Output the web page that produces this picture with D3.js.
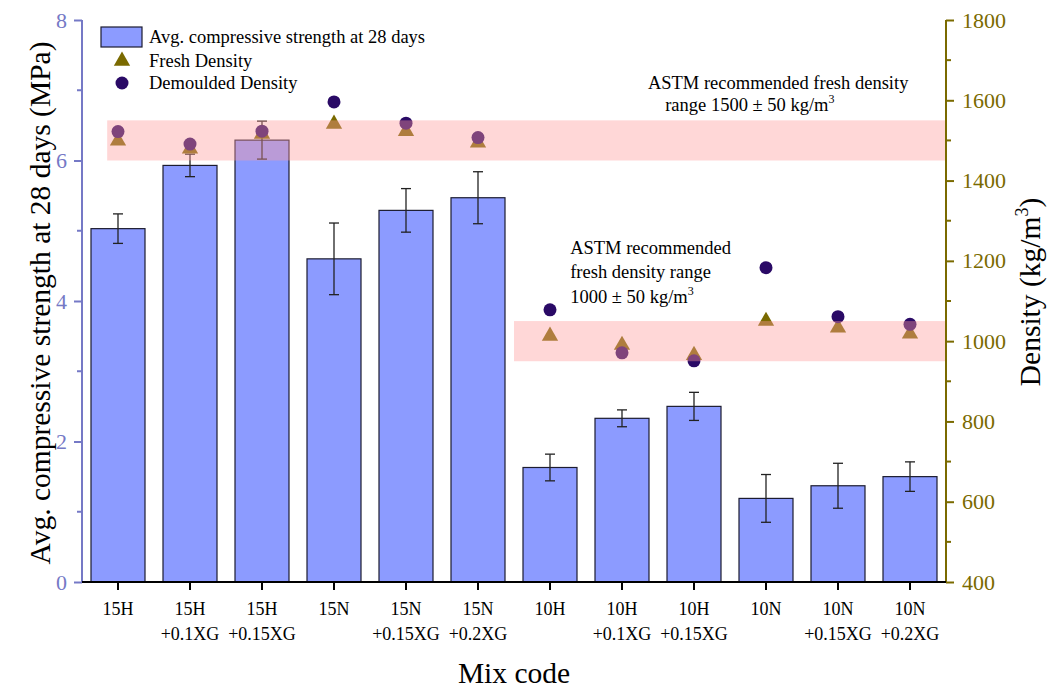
<!DOCTYPE html>
<html>
<head>
<meta charset="utf-8">
<script src="https://cdn.jsdelivr.net/npm/d3@7"></script>
<style>
  body { margin: 0; background: #fff; }
  text { font-family: "Liberation Serif", "Times New Roman", serif; }
</style>
</head>
<body>
<svg id="chart" width="1055" height="689"></svg>
<script>
// mix codes, two lines per tick label
const mixCodes = ["15H", "15H+0.1XG", "15H+0.15XG", "15N", "15N+0.15XG", "15N+0.2XG",
                  "10H", "10H+0.1XG", "10H+0.15XG", "10N", "10N+0.15XG", "10N+0.2XG"];
const codeLine1 = ["15H", "15H", "15H", "15N", "15N", "15N", "10H", "10H", "10H", "10N", "10N", "10N"];
const codeLine2 = ["", "+0.1XG", "+0.15XG", "", "+0.15XG", "+0.2XG", "", "+0.1XG", "+0.15XG", "", "+0.15XG", "+0.2XG"];

// avg compressive strength at 28 days (MPa) and its error
const strength    = [5.03, 5.93, 6.29, 4.60, 5.29, 5.47, 1.63, 2.33, 2.50, 1.19, 1.37, 1.50];
const strengthErr = [0.21, 0.16, 0.27, 0.51, 0.31, 0.37, 0.19, 0.12, 0.20, 0.34, 0.32, 0.21];

// densities (kg/m3)
const freshDensity     = [1499, 1479, 1516, 1541, 1523, 1494, 1013, 990, 965, 1050, 1033, 1018];
const demouldedDensity = [1522, 1491, 1523, 1596, 1543, 1507, 1078, 971, 951, 1183, 1061, 1042];

const strengthTicks = [0, 2, 4, 6, 8];
const strengthMinor = [1, 3, 5, 7];
const densityTicks = [400, 600, 800, 1000, 1200, 1400, 1600, 1800];
const densityMinor = [500, 700, 900, 1100, 1300, 1500, 1700];

// ASTM recommended ranges: centre, tolerance, start (category index)
const bandCentre = [1500, 1000];
const bandTol = [50, 50];
const bandStart = [-0.15, 5.5];

const margin = { top: 20, right: 109, bottom: 107, left: 82 };
const W = 1055, H = 689;
const width = W - margin.left - margin.right;
const height = H - margin.top - margin.bottom;

const svg = d3.select("#chart");
const g = svg.append("g").attr("transform", `translate(${margin.left},${margin.top})`);

const x = d3.scaleBand().domain(mixCodes).range([0, width]).paddingInner(0.25).paddingOuter(0.125);
const y = d3.scaleLinear().domain([0, 8]).range([height, 0]);
const yD = d3.scaleLinear().domain([400, 1800]).range([height, 0]);
const xIdx = (i) => x(mixCodes[0]) + x.bandwidth() / 2 + i * x.step();

const leftColor = "#7579c6";
const rightColor = "#7a6a00";

// bars
g.selectAll("rect.bar")
  .data(mixCodes)
  .join("rect")
  .attr("class", "bar")
  .attr("x", (d) => x(d))
  .attr("width", x.bandwidth())
  .attr("y", (d, i) => y(strength[i]))
  .attr("height", (d, i) => height - y(strength[i]))
  .attr("fill", "#8c9bff")
  .attr("stroke", "#1c1c30")
  .attr("stroke-width", 1.2);

// error bars
const eb = g.append("g").attr("stroke", "#222").attr("stroke-width", 1.3);
mixCodes.forEach((d, i) => {
  const cx = x(d) + x.bandwidth() / 2;
  const y1 = y(strength[i] + strengthErr[i]);
  const y2 = y(strength[i] - strengthErr[i]);
  eb.append("line").attr("x1", cx).attr("x2", cx).attr("y1", y1).attr("y2", y2);
  eb.append("line").attr("x1", cx - 5).attr("x2", cx + 5).attr("y1", y1).attr("y2", y1);
  eb.append("line").attr("x1", cx - 5).attr("x2", cx + 5).attr("y1", y2).attr("y2", y2);
});

// fresh density triangles
const tri = d3.symbol().type(d3.symbolTriangle).size(115);
g.selectAll("path.fresh")
  .data(mixCodes)
  .join("path")
  .attr("class", "fresh")
  .attr("d", tri)
  .attr("transform", (d, i) => `translate(${x(d) + x.bandwidth() / 2},${yD(freshDensity[i])})`)
  .attr("fill", "#7a6a00");

// demoulded density circles
g.selectAll("circle.demould")
  .data(mixCodes)
  .join("circle")
  .attr("class", "demould")
  .attr("cx", (d) => x(d) + x.bandwidth() / 2)
  .attr("cy", (d, i) => yD(demouldedDensity[i]))
  .attr("r", 6.5)
  .attr("fill", "#2a0a66");

// ASTM bands (drawn over the marks, semi transparent)
bandCentre.forEach((c, k) => {
  g.append("rect")
    .attr("x", xIdx(bandStart[k]))
    .attr("width", width - xIdx(bandStart[k]))
    .attr("y", yD(c + bandTol[k]))
    .attr("height", yD(c - bandTol[k]) - yD(c + bandTol[k]))
    .attr("fill", "#ff9a9a")
    .attr("opacity", 0.4);
});

// left axis
const yAxis = g.append("g")
  .call(d3.axisLeft(y).tickValues(strengthTicks).tickSize(8).tickPadding(7).tickFormat(d3.format("d")));
yAxis.select(".domain").attr("stroke", leftColor).attr("stroke-width", 2).attr("d", `M0,${height}V0`);
yAxis.selectAll(".tick line").attr("stroke", leftColor).attr("stroke-width", 2);
yAxis.selectAll("text").attr("fill", leftColor).attr("font-size", 22);
g.append("g").selectAll("line").data(strengthMinor).join("line")
  .attr("x1", -5).attr("x2", 0).attr("y1", (d) => y(d)).attr("y2", (d) => y(d))
  .attr("stroke", leftColor).attr("stroke-width", 2);

// right axis
const yAxisR = g.append("g").attr("transform", `translate(${width},0)`)
  .call(d3.axisRight(yD).tickValues(densityTicks).tickSize(8).tickPadding(8).tickFormat(d3.format("d")));
yAxisR.select(".domain").attr("stroke", rightColor).attr("stroke-width", 2).attr("d", `M0,${height}V0`);
yAxisR.selectAll(".tick line").attr("stroke", rightColor).attr("stroke-width", 2);
yAxisR.selectAll("text").attr("fill", rightColor).attr("font-size", 22);
g.append("g").attr("transform", `translate(${width},0)`)
  .selectAll("line").data(densityMinor).join("line")
  .attr("x1", 0).attr("x2", 5).attr("y1", (d) => yD(d)).attr("y2", (d) => yD(d))
  .attr("stroke", rightColor).attr("stroke-width", 2);

// bottom axis
const xAxis = g.append("g").attr("transform", `translate(0,${height})`)
  .call(d3.axisBottom(x).tickSize(8).tickFormat(""));
xAxis.select(".domain").attr("stroke", "#000").attr("stroke-width", 2).attr("d", `M0,0H${width}`);
xAxis.selectAll(".tick line").attr("stroke", "#000").attr("stroke-width", 2);
xAxis.selectAll(".tick").each(function (d, i) {
  const t = d3.select(this);
  t.append("text").attr("y", 33).attr("text-anchor", "middle").attr("fill", "#000")
    .attr("font-size", 18).text(codeLine1[i]);
  t.append("text").attr("y", 58).attr("text-anchor", "middle").attr("fill", "#000")
    .attr("font-size", 18).text(codeLine2[i]);
});

// axis titles
svg.append("text").attr("x", 514).attr("y", 683).attr("text-anchor", "middle")
  .attr("font-size", 29.5).attr("fill", "#000").text("Mix code");
svg.append("text").attr("transform", `translate(50,303) rotate(-90)`)
  .attr("text-anchor", "middle").attr("font-size", 29.5).attr("fill", "#000")
  .text("Avg. compressive strength at 28 days (MPa)");
const rt = svg.append("text").attr("transform", `translate(1040,292) rotate(-90)`)
  .attr("text-anchor", "middle").attr("font-size", 29.5).attr("fill", "#000");
rt.append("tspan").text("Density (kg/m");
rt.append("tspan").attr("font-size", 18).attr("dy", -12).text("3");
rt.append("tspan").attr("dy", 12).text(")");

// annotations
const ann = g.append("g").attr("font-size", 18.5).attr("fill", "#000");
ann.append("text").attr("x", xIdx(7.36)).attr("y", yD(1643) + 6).text("ASTM recommended fresh density");
const a2 = ann.append("text").attr("x", xIdx(7.6)).attr("y", yD(1588) + 6);
a2.append("tspan").text("range 1500 ± 50 kg/m");
a2.append("tspan").attr("font-size", 12).attr("dy", -8).text("3");
ann.append("text").attr("x", xIdx(6.28)).attr("y", yD(1232) + 6).text("ASTM recommended");
ann.append("text").attr("x", xIdx(6.28)).attr("y", yD(1172) + 6).text("fresh density range");
const a3 = ann.append("text").attr("x", xIdx(6.28)).attr("y", yD(1110) + 6);
a3.append("tspan").text("1000 ± 50 kg/m");
a3.append("tspan").attr("font-size", 12).attr("dy", -8).text("3");

// legend
const lg = svg.append("g").attr("transform", "translate(101,27)");
lg.append("rect").attr("width", 41).attr("height", 20).attr("fill", "#8c9bff")
  .attr("stroke", "#1c1c30").attr("stroke-width", 1.2);
lg.append("text").attr("x", 48).attr("y", 16).attr("font-size", 18.5).text("Avg. compressive strength at 28 days");
lg.append("path").attr("d", tri).attr("transform", "translate(21,34)").attr("fill", "#7a6a00");
lg.append("text").attr("x", 48).attr("y", 40).attr("font-size", 18.5).text("Fresh Density");
lg.append("circle").attr("cx", 21).attr("cy", 56).attr("r", 6.5).attr("fill", "#2a0a66");
lg.append("text").attr("x", 48).attr("y", 62).attr("font-size", 18.5).text("Demoulded Density");
</script>
</body>
</html>
